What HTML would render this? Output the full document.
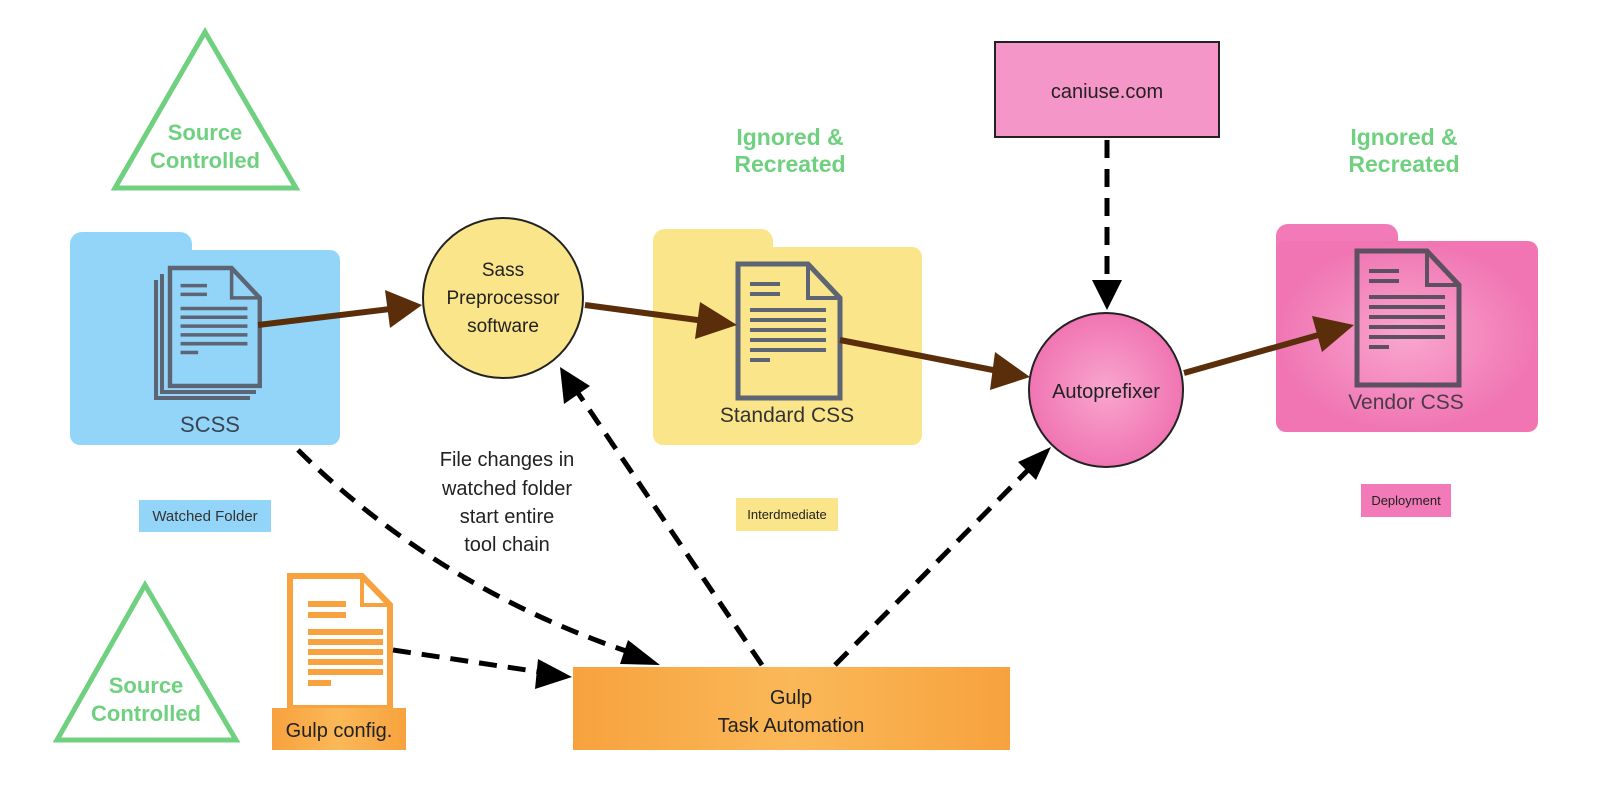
<!DOCTYPE html>
<html><head><meta charset="utf-8"><style>
html,body{margin:0;padding:0;background:#fff;}
svg{display:block;}
text{font-family:"Liberation Sans",sans-serif;}
</style></head><body>
<svg width="1600" height="806" viewBox="0 0 1600 806" xmlns="http://www.w3.org/2000/svg">
<defs>
<g id="doc">
<path d="M0,0 H70 L102,34 V134 H0 Z" fill="none" stroke-width="5"/>
<path d="M70,0 V34 H102" fill="none" stroke-width="4"/>
<path d="M12,20 H42 M12,30 H42 M12,46 H88 M12,56 H88 M12,66 H88 M12,76 H88 M12,86 H88 M12,96 H32" stroke-width="4"/>
</g>
<linearGradient id="og" x1="0" x2="1"><stop offset="0" stop-color="#f7a23e"/><stop offset="0.5" stop-color="#fbb858"/><stop offset="1" stop-color="#f7a23e"/></linearGradient>
<radialGradient id="pg"><stop offset="0" stop-color="#f9a6cf"/><stop offset="1" stop-color="#f075b2"/></radialGradient>
</defs>

<polygon points="205,32 115,188 296,188" fill="none" stroke="#6fd07f" stroke-width="5"/>
<text x="205" y="140" font-size="22" font-weight="bold" fill="#6fd07f" text-anchor="middle">Source</text>
<text x="205" y="168" font-size="22" font-weight="bold" fill="#6fd07f" text-anchor="middle">Controlled</text>
<polygon points="145,585 57,740 236,740" fill="none" stroke="#6fd07f" stroke-width="5"/>
<text x="146" y="693" font-size="22" font-weight="bold" fill="#6fd07f" text-anchor="middle">Source</text>
<text x="146" y="721" font-size="22" font-weight="bold" fill="#6fd07f" text-anchor="middle">Controlled</text>

<rect x="70" y="232" width="122" height="40" rx="12" fill="#93d5f8"/>
<rect x="70" y="250" width="270" height="195" rx="10" fill="#93d5f8"/>
<g stroke="#5d6473" fill="none"><path d="M156,280 V398 H250" stroke-width="4"/><path d="M162,274 V392 H256" stroke-width="4"/></g>
<use href="#doc" transform="translate(170,268) scale(0.88,0.88)" stroke="#5d6473"/>
<text x="210" y="432" font-size="22" fill="#3a4452" text-anchor="middle">SCSS</text>
<rect x="139" y="500" width="132" height="32" fill="#93d5f8"/>
<text x="205" y="521" font-size="15" fill="#333" text-anchor="middle">Watched Folder</text>

<circle cx="503" cy="298" r="80" fill="#fbe58a" stroke="#222" stroke-width="2"/>
<text x="503" y="276" font-size="19" fill="#222" text-anchor="middle">Sass</text>
<text x="503" y="304" font-size="19" fill="#222" text-anchor="middle">Preprocessor</text>
<text x="503" y="332" font-size="19" fill="#222" text-anchor="middle">software</text>

<rect x="653" y="229" width="120" height="40" rx="12" fill="#fbe58a"/>
<rect x="653" y="247" width="269" height="198" rx="10" fill="#fbe58a"/>
<use href="#doc" transform="translate(738,264)" stroke="#5d6473"/>
<text x="787" y="422" font-size="21" fill="#333" text-anchor="middle">Standard CSS</text>
<rect x="736" y="498" width="102" height="33" fill="#fbe58a"/>
<text x="787" y="519" font-size="13" fill="#222" text-anchor="middle">Interdmediate</text>
<text x="790" y="145" font-size="23" font-weight="bold" fill="#6fd07f" text-anchor="middle">Ignored &amp;</text>
<text x="790" y="172" font-size="23" font-weight="bold" fill="#6fd07f" text-anchor="middle">Recreated</text>

<rect x="995" y="42" width="224" height="95" fill="#f596c8" stroke="#222" stroke-width="2"/>
<text x="1107" y="98" font-size="20" fill="#222" text-anchor="middle">caniuse.com</text>

<circle cx="1106" cy="390" r="77" fill="url(#pg)" stroke="#222" stroke-width="2"/>
<text x="1106" y="398" font-size="20" fill="#222" text-anchor="middle">Autoprefixer</text>

<rect x="1276" y="224" width="122" height="40" rx="12" fill="#f27ab8"/>
<rect x="1276" y="241" width="262" height="191" rx="10" fill="url(#pg)"/>
<use href="#doc" transform="translate(1357,251)" stroke="#5d5060"/>
<text x="1406" y="409" font-size="21" fill="#4a3a48" text-anchor="middle">Vendor CSS</text>
<rect x="1361" y="484" width="90" height="33" fill="#f27ab8"/>
<text x="1406" y="505" font-size="13" fill="#222" text-anchor="middle">Deployment</text>
<text x="1404" y="145" font-size="23" font-weight="bold" fill="#6fd07f" text-anchor="middle">Ignored &amp;</text>
<text x="1404" y="172" font-size="23" font-weight="bold" fill="#6fd07f" text-anchor="middle">Recreated</text>

<rect x="573" y="667" width="437" height="83" fill="url(#og)"/>
<text x="791" y="704" font-size="20" fill="#222" text-anchor="middle">Gulp</text>
<text x="791" y="732" font-size="20" fill="#222" text-anchor="middle">Task Automation</text>
<path d="M290,576 H362 L390,605 V708 H290 Z" fill="#fff" stroke="#f7a23e" stroke-width="6"/>
<path d="M362,576 V605 H390" fill="none" stroke="#f7a23e" stroke-width="4"/>
<path d="M308,604 H346 M308,615 H346 M308,632 H383 M308,642 H383 M308,652 H383 M308,662 H383 M308,672 H383 M308,683 H331" stroke="#f7a23e" stroke-width="6"/>
<rect x="272" y="708" width="134" height="42" fill="url(#og)"/>
<text x="339" y="737" font-size="20" fill="#222" text-anchor="middle">Gulp config.</text>

<g font-size="20" fill="#222" text-anchor="middle">
<text x="507" y="466">File changes in</text>
<text x="507" y="495">watched folder</text>
<text x="507" y="523">start entire</text>
<text x="507" y="551">tool chain</text>
</g>

<g stroke="#5a2e0a" stroke-width="6" fill="none">
<line x1="258" y1="325" x2="390" y2="309"/>
<line x1="585" y1="305" x2="705" y2="321"/>
<line x1="840" y1="340" x2="998" y2="371"/>
<line x1="1184" y1="373" x2="1322" y2="334"/>
</g>
<g fill="#5a2e0a">
<polygon points="422,305 385,290 390,328"/>
<polygon points="737,325 700,302 695,339"/>
<polygon points="1030,377 995,352 990,390"/>
<polygon points="1354,325 1312,316 1322,352"/>
</g>

<g stroke="#000" stroke-width="5" fill="none" stroke-dasharray="18,11">
<path d="M298,450 Q440,590 638,655"/>
<line x1="393" y1="650" x2="540" y2="672"/>
<line x1="762" y1="665" x2="578" y2="393"/>
<line x1="835" y1="665" x2="1028" y2="470"/>
<line x1="1107" y1="140" x2="1107" y2="282"/>
</g>
<g fill="#000">
<polygon points="660,665 628,640 620,664"/>
<polygon points="572,677 538,659 535,689"/>
<polygon points="560,367 564,404 590,386"/>
<polygon points="1051,447 1018,462 1036,480"/>
<polygon points="1107,310 1092,280 1122,280"/>
</g>
</svg>
</body></html>
